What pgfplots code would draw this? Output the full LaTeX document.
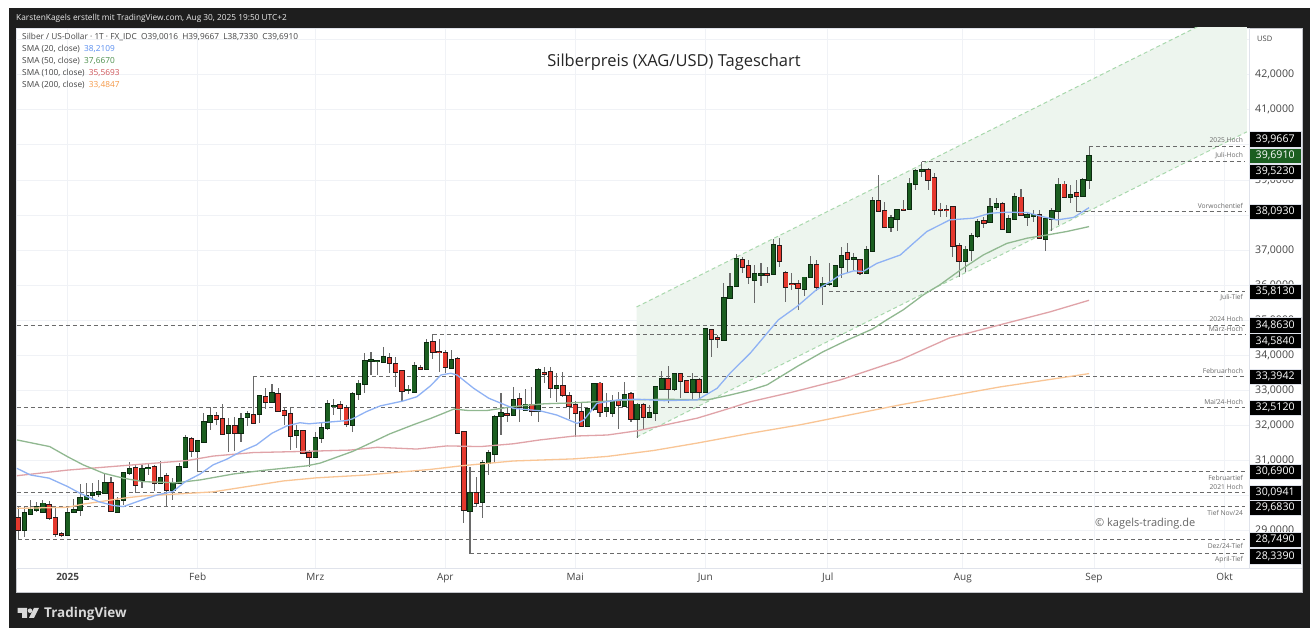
\documentclass[border=0pt]{standalone}
\usepackage{pgfplots}
\usepackage{pgfplotstable}
\usepackage{fontspec}
\setmainfont{Open Sans}
\pgfplotsset{compat=1.18}
\definecolor{frame}{HTML}{1E1E1E}
\definecolor{gridc}{HTML}{F0F2F6}
\definecolor{axl}{HTML}{E0E3EB}
\definecolor{upb}{HTML}{1B5E20}
\definecolor{upe}{HTML}{0C2A10}
\definecolor{dnb}{HTML}{E5392E}
\definecolor{dne}{HTML}{2A1A1A}
\definecolor{wick}{HTML}{6A6A6A}
\definecolor{sblue}{HTML}{8FB2F4}
\definecolor{sgreen}{HTML}{90B890}
\definecolor{sred}{HTML}{E0A3A8}
\definecolor{sorange}{HTML}{F9C595}
\definecolor{chf}{HTML}{EDF5EE}
\definecolor{chl}{HTML}{A8D8AC}
\definecolor{lvl}{HTML}{6A6A6A}
\definecolor{txt}{HTML}{444444}
\pgfplotstableread{
i o h l c
-7 29.02 29.69 28.83 29.50
-6 29.48 29.88 29.45 29.61
-5 29.59 29.83 29.55 29.67
-4 29.55 29.88 29.50 29.78
0 28.87 29.64 28.85 29.50
1 29.55 29.90 29.55 29.59
2 29.59 30.33 29.42 29.93
3 29.90 30.35 29.88 30.00
4 30.01 30.35 29.88 30.07
5 30.05 30.45 29.97 30.10
6 30.09 30.64 30.07 30.37
8 29.55 29.97 29.53 29.86
9 29.88 30.69 29.74 30.64
10 30.64 30.97 30.59 30.77
12 30.45 30.88 30.21 30.76
13 30.78 30.92 30.59 30.80
15 30.37 30.99 30.35 30.51
17 30.16 30.50 29.88 30.37
18 30.37 30.94 30.33 30.81
19 30.83 31.73 30.78 31.64
21 31.28 31.59 30.69 31.55
22 31.54 32.37 31.49 32.11
23 32.11 32.52 31.87 32.28
26 31.78 32.21 31.26 31.99
28 31.78 32.35 31.54 32.19
29 32.24 32.42 31.99 32.32
31 32.33 32.87 32.08 32.84
33 32.68 33.19 32.63 32.94
37 31.73 32.02 31.35 31.84
40 31.11 31.83 31.09 31.65
41 31.65 32.06 31.49 31.93
42 31.93 32.73 31.87 32.61
43 32.55 32.75 32.30 32.57
46 32.02 32.97 31.83 32.90
47 32.90 33.30 32.73 33.20
48 33.18 34.06 32.94 33.85
49 33.84 34.09 33.44 33.86
50 33.83 33.87 33.44 33.85
51 33.80 34.23 33.77 33.96
55 33.01 33.16 32.90 33.03
56 32.96 33.81 32.94 33.70
58 33.60 34.46 33.58 34.36
62 33.65 34.15 33.63 33.87
65 29.57 30.81 28.33 30.09
67 29.83 31.02 29.36 30.94
68 30.94 31.30 30.59 31.21
69 31.19 32.30 30.92 32.25
70 32.28 32.92 31.73 32.35
72 32.30 33.11 32.27 32.73
74 32.44 33.04 32.42 32.60
76 32.42 33.63 32.11 33.58
79 33.08 33.49 32.68 33.13
84 31.99 32.49 31.97 32.47
85 32.46 33.20 32.42 33.18
87 32.42 32.92 32.23 32.49
88 32.37 32.87 32.25 32.70
90 32.57 33.23 32.54 32.87
92 32.19 32.63 31.65 32.60
94 32.25 32.59 32.23 32.35
95 32.35 33.13 32.13 33.09
96 33.05 33.55 33.01 33.33
98 33.03 33.51 32.99 33.48
101 32.95 33.49 32.73 33.29
103 32.97 34.77 32.94 34.75
106 34.44 36.05 34.42 35.64
107 35.63 36.34 35.60 35.96
108 35.98 36.88 35.96 36.74
111 36.15 36.58 35.48 36.32
112 36.30 36.64 35.99 36.32
114 36.31 37.31 36.29 37.14
119 35.90 36.23 35.69 36.22
120 36.22 36.83 36.20 36.58
122 35.99 36.23 35.44 36.05
123 36.03 36.62 35.99 36.05
124 35.99 36.58 35.96 36.55
125 36.53 37.08 36.20 36.83
127 36.75 36.91 36.42 36.77
129 36.34 37.12 36.32 37.00
130 36.98 38.52 36.96 38.39
133 37.65 38.00 37.53 37.92
134 37.88 38.16 37.55 38.14
136 38.16 39.05 38.14 38.90
137 38.88 39.30 38.71 39.26
138 39.26 39.52 39.07 39.28
145 36.69 37.12 36.39 37.02
146 37.00 37.48 36.70 37.40
147 37.40 37.88 37.34 37.81
149 37.80 38.49 37.78 38.24
150 38.22 38.48 38.14 38.31
152 37.53 38.00 37.52 37.89
153 37.88 38.62 37.86 38.52
155 37.93 38.09 37.69 37.99
156 37.97 38.14 37.81 37.99
158 37.33 37.91 36.98 37.88
159 37.88 38.19 37.55 38.12
160 38.12 39.05 37.72 38.87
162 38.50 38.86 38.35 38.57
164 38.54 39.05 38.52 39.00
165 39.0016 39.9667 38.733 39.691
}\upcandles
\pgfplotstableread{
i o h l c
-8 29.36 29.69 28.74 29.02
-3 29.74 29.85 29.31 29.36
-2 29.36 29.69 28.81 28.91
-1 28.91 28.98 28.81 28.87
7 30.37 30.54 29.55 29.57
11 30.78 30.88 30.09 30.31
14 30.81 30.88 30.14 30.37
16 30.57 30.66 29.67 30.16
20 31.61 31.68 31.11 31.28
24 32.27 32.40 32.02 32.18
25 32.19 32.61 31.73 31.75
27 31.99 32.25 31.28 31.78
30 32.31 33.39 32.04 32.08
32 32.82 33.06 32.46 32.68
34 32.90 33.06 32.40 32.42
35 32.42 32.49 32.02 32.31
36 32.33 32.49 31.30 31.70
38 31.84 31.87 31.21 31.23
39 31.23 31.30 30.83 31.09
44 32.59 32.70 32.16 32.49
45 32.50 32.59 31.95 32.03
52 33.93 34.06 33.49 33.77
53 33.75 33.94 33.11 33.52
54 33.55 33.58 32.71 32.99
57 33.65 33.73 33.58 33.60
59 34.39 34.61 33.89 34.11
60 34.11 34.47 33.54 34.09
61 34.08 34.15 33.49 33.68
63 33.89 33.94 31.78 31.80
64 31.81 31.83 29.21 29.59
66 30.07 30.52 29.69 29.80
71 32.34 32.54 32.09 32.30
73 32.75 32.92 32.09 32.52
75 32.60 33.11 32.28 32.42
77 33.49 33.68 33.20 33.47
78 33.52 33.66 32.78 33.06
80 33.13 33.54 32.82 32.87
81 32.84 32.97 32.19 32.56
82 32.59 32.71 31.68 32.37
83 32.38 32.68 31.97 31.99
86 33.20 33.25 32.25 32.40
89 32.70 32.97 31.89 32.58
91 32.89 32.97 32.09 32.19
93 32.59 32.63 31.87 32.25
97 33.33 33.70 32.63 33.03
99 33.47 33.51 32.78 33.28
100 33.27 33.30 32.92 32.95
102 33.30 33.35 32.78 32.97
104 34.72 34.74 33.96 34.47
105 34.50 34.58 34.20 34.46
109 36.72 36.81 36.34 36.53
110 36.55 36.72 36.03 36.22
113 36.32 36.53 36.07 36.30
115 37.12 37.34 36.51 36.70
116 36.34 36.41 35.53 35.96
117 36.04 36.34 35.86 36.02
118 36.03 36.15 35.29 35.91
121 36.58 36.72 35.84 35.96
126 36.91 37.21 36.39 36.75
128 36.72 36.74 36.29 36.34
131 38.40 39.14 38.10 38.11
132 38.11 38.38 37.63 37.65
135 38.16 38.43 38.14 38.14
139 39.28 39.33 38.71 39.00
140 39.05 39.21 38.00 38.14
141 38.16 38.33 37.93 38.14
142 38.15 38.29 37.93 38.13
143 38.22 38.26 36.79 37.12
144 37.12 37.21 36.24 36.69
148 37.84 37.93 37.62 37.78
151 38.31 38.38 37.57 37.59
154 38.50 38.73 37.97 38.00
157 38.00 38.14 37.33 37.35
161 38.87 38.98 38.50 38.52
163 38.62 39.00 38.09 38.55
}\downcandles
\pgfplotsset{
  base/.style={
    at={(16pt,60pt)},anchor=south west,scale only axis,
    width=1233pt,height=540pt,
    xmin=-8.35,xmax=190.84,ymin=27.94,ymax=43.33},
  level/.style={lvl,line width=1pt,dash pattern=on 4pt off 3pt,forget plot}
}
\tikzset{
  tag/.style={fill=black,draw=axl,line width=0.3pt,text=white,font=\fontsize{10.6}{13}\selectfont,
    anchor=west,minimum width=52pt,minimum height=15.5pt,inner sep=0pt},
  ll/.style={text=lvl,font=\fontsize{6.7}{8}\selectfont,anchor=east,inner sep=0pt},
  lg/.style={text=txt,font=\fontsize{8.3}{10}\selectfont,anchor=west,inner sep=0pt}
}
\newcommand{\candles}[3]{%
  \addplot[draw=none,forget plot,error bars/.cd,y dir=both,y explicit,error mark=none,
    error bar style={line width=1.1pt,color=wick}]
    table[x=i,y=#1,y error plus expr=\thisrow{h}-\thisrow{#1},y error minus expr=\thisrow{#1}-\thisrow{l}]{#3};
  \addplot[draw=none,forget plot,error bars/.cd,y dir=both,y explicit,error mark=none,
    error bar style={line width=5.4pt,color=#2e}]
    table[x=i,y=#1,y error plus expr=abs(\thisrow{c}-\thisrow{o})+0.025,y error minus expr=0.025]{#3};
  \addplot[draw=none,forget plot,error bars/.cd,y dir=plus,y explicit,error mark=none,
    error bar style={line width=3.7pt,color=#2b}]
    table[x=i,y=#1,y error plus expr=abs(\thisrow{c}-\thisrow{o})]{#3};
}
\begin{document}
\begin{tikzpicture}[x=1pt,y=1pt]
\fill[white] (0,0) rectangle (1314,628);
\fill[frame] (9,0) rectangle (1310,620);
\fill[white] (16,36) rectangle (1302,600);
\draw[axl!70!gray,line width=0.8pt] (16,36) rectangle (1302,600);
\draw[axl,line width=0.8pt] (16,60) -- (1302,60);

\begin{axis}[base,
  axis line style={draw=axl,line width=0.6pt},
  xtick={0,21,40,61,82,103,122.8,144.6,165.8,186.9},
  xticklabels={\textbf{2025},Feb,Mrz,Apr,Mai,Jun,Jul,Aug,Sep,Okt},
  ytick={29,30,31,32,33,34,35,36,37,38,39,40,41,42},
  yticklabels={{29,0000},{30,0000},{31,0000},{32,0000},{33,0000},{34,0000},{35,0000},{36,0000},{37,0000},{38,0000},{39,0000},{40,0000},{41,0000},{42,0000}},
  extra y ticks={43},extra y tick labels={},
  major tick length=0pt,
  grid=major,grid style={gridc,line width=0.8pt},
  yticklabel pos=right,
  yticklabel style={anchor=west,inner sep=0pt,xshift=6pt,text=txt,font=\fontsize{10.6}{13}\selectfont},
  xticklabel style={anchor=north,inner sep=0pt,yshift=-5pt,text=txt,font=\fontsize{10}{12}\selectfont},
]
% channel
\addplot[fill=chf,draw=none,forget plot] coordinates {(91.9,35.38) (190.5,44.07) (190.5,40.37) (91.9,31.67)} -- cycle;
\addplot[chl,line width=1pt,dash pattern=on 4pt off 3pt,forget plot] coordinates {(91.9,35.38) (190.5,44.07)};
\addplot[chl,line width=1pt,dash pattern=on 4pt off 3pt,forget plot] coordinates {(91.9,31.67) (190.5,40.37)};
% levels
\addplot[level] coordinates {(165,39.9667) (190.2,39.9667)};
\addplot[level] coordinates {(138,39.523) (190.2,39.523)};
\addplot[level] coordinates {(163,38.093) (190.2,38.093)};
\addplot[level] coordinates {(123,35.813) (190.2,35.813)};
\addplot[level] coordinates {(-8.2,34.863) (190.2,34.863)};
\addplot[level] coordinates {(59,34.584) (190.2,34.584)};
\addplot[level] coordinates {(30,33.3942) (190.2,33.3942)};
\addplot[level] coordinates {(-8.2,32.512) (190.2,32.512)};
\addplot[level] coordinates {(21,30.69) (190.2,30.69)};
\addplot[level] coordinates {(-8.2,30.0941) (190.2,30.0941)};
\addplot[level] coordinates {(-8.2,29.683) (190.2,29.683)};
\addplot[level] coordinates {(-8,28.749) (190.2,28.749)};
\addplot[level] coordinates {(65,28.339) (190.2,28.339)};
% candles
\candles{o}{up}{\upcandles}
\candles{c}{dn}{\downcandles}
% SMA 200
\addplot[sorange,line width=1.3pt,forget plot] coordinates {(-8.2,29.64)(0,29.67)(2.5,29.76)(9,29.93)(12,29.99)(23.5,30.11)(34.8,30.42)(40.2,30.51)(48.3,30.59)(58.6,30.75)(64,30.86)(72,30.99)(81.8,31.05)(87.2,31.12)(94.7,31.29)(101.7,31.50)(110.3,31.78)(118.3,32.02)(134.5,32.59)(150.6,33.10)(165,33.48)};
% SMA 100
\addplot[sred,line width=1.3pt,forget plot] coordinates {(-8.2,30.57)(0,30.73)(10.6,30.88)(19.2,31.00)(23.5,31.13)(30,31.23)(37.5,31.26)(45.6,31.30)(50,31.38)(56.4,31.33)(61.3,31.42)(66.7,31.40)(72,31.48)(76.3,31.59)(81.8,31.70)(87.2,31.73)(92,31.85)(96.3,32.01)(101.7,32.21)(106,32.44)(110.3,32.68)(117,32.95)(124.8,33.30)(134.5,33.87)(142.5,34.50)(150.6,34.87)(158.7,35.24)(165,35.57)};
% SMA 50
\addplot[sgreen,line width=1.3pt,forget plot] coordinates {(-8.2,31.59)(-2.9,31.40)(0,31.11)(2.5,30.88)(5.8,30.64)(9,30.50)(12.2,30.40)(17.6,30.37)(21.4,30.45)(26.8,30.62)(32,30.73)(38.6,30.85)(40.8,30.93)(46,31.26)(48.3,31.45)(52,31.76)(55.8,32.02)(58.6,32.20)(62.4,32.47)(64.6,32.43)(67.8,32.43)(72,32.54)(77,32.62)(80.7,32.64)(85.5,32.68)(90.9,32.73)(96.3,32.75)(103.3,32.73)(107,32.87)(110.3,33.01)(113,33.16)(118,33.70)(122,34.10)(126,34.44)(130,34.75)(132.3,35.01)(135,35.30)(138.2,35.72)(140.9,36.01)(144.2,36.43)(147.9,36.86)(151.7,37.19)(155,37.34)(158.2,37.43)(161.4,37.53)(165,37.67)};
% SMA 20
\addplot[sblue,line width=1.3pt,forget plot] coordinates {(-8.2,30.78)(-6,30.59)(-3,30.50)(0,30.26)(2,30.07)(5,29.83)(7.4,29.72)(9,29.69)(12,29.88)(14.4,30.02)(17,30.12)(19,30.40)(21.4,30.62)(23.5,30.88)(25.7,31.04)(28,31.26)(30.5,31.45)(33,31.78)(35.4,31.99)(37.5,32.08)(39,32.05)(41.6,32.09)(45,32.14)(46,32.19)(48.3,32.40)(50.5,32.56)(54.2,32.70)(56.4,32.82)(58.6,33.13)(60.3,33.44)(61.9,33.49)(62.9,33.44)(65.6,33.06)(68,32.78)(72,32.49)(76.3,32.42)(79,32.30)(82.3,32.06)(83.4,32.16)(85.5,32.63)(88.8,32.73)(92,32.75)(96.3,32.71)(101.7,32.73)(104.9,33.06)(107,33.49)(110.3,34.07)(114.8,35.01)(117.8,35.39)(120.9,35.86)(123.2,36.10)(124.8,36.29)(127,36.41)(128.5,36.39)(130.7,36.62)(134.5,36.86)(136.6,37.19)(138.8,37.53)(142.5,37.86)(146.3,37.91)(149,38.05)(151.7,38.08)(155,38.07)(157.1,37.97)(159.8,37.86)(162.5,37.93)(165,38.21)};
\end{axis}

% overlay: price tags and level names
\begin{axis}[base,hide axis,clip=false]
\node[tag] at (axis cs:190.84,39.9667) [yshift=7pt] {39,9667};
\node[tag,fill=upb] at (axis cs:190.84,39.691) {39,6910};
\node[tag] at (axis cs:190.84,39.523) [yshift=-10pt] {39,5230};
\node[tag] at (axis cs:190.84,38.093) {38,0930};
\node[tag] at (axis cs:190.84,35.813) {35,8130};
\node[tag] at (axis cs:190.84,34.863) {34,8630};
\node[tag] at (axis cs:190.84,34.584) [yshift=-6pt] {34,5840};
\node[tag] at (axis cs:190.84,33.3942) {33,3942};
\node[tag] at (axis cs:190.84,32.512) {32,5120};
\node[tag] at (axis cs:190.84,30.69) {30,6900};
\node[tag] at (axis cs:190.84,30.0941) {30,0941};
\node[tag] at (axis cs:190.84,29.683) [yshift=-1pt] {29,6830};
\node[tag] at (axis cs:190.84,28.749) {28,7490};
\node[tag] at (axis cs:190.84,28.339) [yshift=-2pt] {28,3390};
\node[ll] at (axis cs:189.9,39.9667) [yshift=6pt] {2025 Hoch};
\node[ll] at (axis cs:189.9,39.523) [yshift=6pt] {Juli-Hoch};
\node[ll] at (axis cs:189.9,38.093) [yshift=6pt] {Vorwochentief};
\node[ll] at (axis cs:189.9,35.813) [yshift=-6pt] {Juli-Tief};
\node[ll] at (axis cs:189.9,34.863) [yshift=6pt] {2024 Hoch};
\node[ll] at (axis cs:189.9,34.584) [yshift=6pt] {März-Hoch};
\node[ll] at (axis cs:189.9,33.3942) [yshift=6pt] {Februarhoch};
\node[ll] at (axis cs:189.9,32.512) [yshift=6pt] {Mai'24-Hoch};
\node[ll] at (axis cs:189.9,30.69) [yshift=-6pt] {Februartief};
\node[ll] at (axis cs:189.9,30.0941) [yshift=5.5pt] {2021 Hoch};
\node[ll] at (axis cs:189.9,29.683) [yshift=-6.5pt] {Tief Nov/24};
\node[ll] at (axis cs:189.9,28.749) [yshift=-6.5pt] {Dez/24-Tief};
\node[ll] at (axis cs:189.9,28.339) [yshift=-6pt] {April-Tief};
\end{axis}

% header, legend, title, footer
\node[anchor=west,inner sep=0pt,text=white!92!black,font=\fontsize{8.3}{10}\selectfont] at (16,610) {KarstenKagels erstellt mit TradingView.com, Aug 30, 2025 19:50 UTC+2};
\node[lg] at (22,591) {Silber / US-Dollar · 1T · FX\_IDC\ \ O39,0016\ \ H39,9667\ \ L38,7330\ \ C39,6910};
\node[lg] at (22,579) {SMA (20, close)\ \ \textcolor[HTML]{5B8FF0}{38,2109}};
\node[lg] at (22,567) {SMA (50, close)\ \ \textcolor[HTML]{4C8F4C}{37,6670}};
\node[lg] at (22,555) {SMA (100, close)\ \ \textcolor[HTML]{D0555A}{35,5693}};
\node[lg] at (22,542.5) {SMA (200, close)\ \ \textcolor[HTML]{F59A4A}{33,4847}};
\node[text=black!85,font=\fontsize{16.5}{19}\selectfont,inner sep=0pt] at (674,566) {Silberpreis (XAG/USD) Tageschart};
\node[anchor=west,inner sep=0pt,text=txt,font=\fontsize{7.5}{9}\selectfont] at (1257,589) {USD};
\node[anchor=west,inner sep=0pt,text=black!60,font=\fontsize{11}{13}\selectfont] at (1095,104) {© kagels-trading.de};
\fill[white!85!black] (17.5,20) -- (27,20) -- (27,10) -- (22,10) -- (22,15) -- (17.5,15) -- cycle;
\fill[white!85!black] (30,17.3) circle (2.3);
\fill[white!85!black] (34,20) -- (39,20) -- (34,10) -- (29,10) -- cycle;
\node[anchor=west,inner sep=0pt,text=white!85!black,font=\fontsize{13.5}{16}\selectfont\bfseries] at (44,14) {TradingView};
\end{tikzpicture}
\end{document}
